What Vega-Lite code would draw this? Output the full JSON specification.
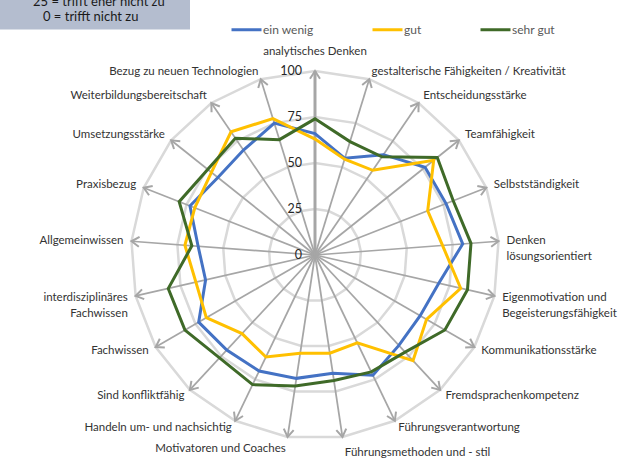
{
  "$schema": "https://vega.github.io/schema/vega-lite/v6.json",
  "width": 641,
  "height": 468,
  "autosize": {"type": "none"},
  "padding": 0,
  "background": "white",
  "config": {"view": {"stroke": null}, "font": "Lato", "text": {"font": "Lato"}, "legend": {"labelFont": "Lato"}},
  "datasets": {
    "kategorien": [
      {"i": 0, "kategorie": "analytisches Denken", "ein wenig": 66, "gut": 63, "sehr gut": 74},
      {"i": 1, "kategorie": "gestalterische Fähigkeiten / Kreativität", "ein wenig": 55, "gut": 54.5, "sehr gut": 64.5},
      {"i": 2, "kategorie": "Entscheidungsstärke", "ein wenig": 66, "gut": 55.7, "sehr gut": 64.6},
      {"i": 3, "kategorie": "Teamfähigkeit", "ein wenig": 76.5, "gut": 82.5, "sehr gut": 85},
      {"i": 4, "kategorie": "Selbstständigkeit", "ein wenig": 76.5, "gut": 65.8, "sehr gut": 80.7},
      {"i": 5, "kategorie": "Denken\nlösungsorientiert", "ein wenig": 80.5, "gut": 69.5, "sehr gut": 85},
      {"i": 6, "kategorie": "Eigenmotivation und\nBegeisterungsfähigkeit", "ein wenig": 69, "gut": 81.2, "sehr gut": 85},
      {"i": 7, "kategorie": "Kommunikationsstärke", "ein wenig": 66, "gut": 70, "sehr gut": 81.5},
      {"i": 8, "kategorie": "Fremdsprachenkompetenz", "ein wenig": 67, "gut": 78.3, "sehr gut": 72},
      {"i": 9, "kategorie": "Führungsverantwortung", "ein wenig": 72.5, "gut": 53, "sehr gut": 70.5},
      {"i": 10, "kategorie": "Führungsmethoden und - stil", "ein wenig": 65, "gut": 54, "sehr gut": 69},
      {"i": 11, "kategorie": "Motivatoren und Coaches", "ein wenig": 67.8, "gut": 54, "sehr gut": 72},
      {"i": 12, "kategorie": "Handeln um- und nachsichtig", "ein wenig": 70, "gut": 61.5, "sehr gut": 78.2},
      {"i": 13, "kategorie": "Sind konfliktfähig", "ein wenig": 70.5, "gut": 58.3, "sehr gut": 76.3},
      {"i": 14, "kategorie": "Fachwissen", "ein wenig": 73, "gut": 68.2, "sehr gut": 81.6},
      {"i": 15, "kategorie": "interdisziplinäres\nFachwissen", "ein wenig": 61, "gut": 66.4, "sehr gut": 81.8},
      {"i": 16, "kategorie": "Allgemeinwissen", "ein wenig": 63.7, "gut": 70.9, "sehr gut": 67.1},
      {"i": 17, "kategorie": "Praxisbezug", "ein wenig": 73, "gut": 70.2, "sehr gut": 79.3},
      {"i": 18, "kategorie": "Umsetzungsstärke", "ein wenig": 67.5, "gut": 72, "sehr gut": 74.6},
      {"i": 19, "kategorie": "Weiterbildungsbereitschaft", "ein wenig": 69, "gut": 81, "sehr gut": 76.8},
      {"i": 20, "kategorie": "Bezug zu neuen Technologien", "ein wenig": 75, "gut": 77.6, "sehr gut": 65.6}
    ],
    "stufen": [{"wert": 0}, {"wert": 25}, {"wert": 50}, {"wert": 75}, {"wert": 100}],
    "skala": [{"bedeutung": "25 = trifft eher nicht zu\u00a0\u00a0\u00a0\u00a0\u00a0\u00a0\u200b"}, {"bedeutung": "\u200b\u00a0\u00a0\u00a00 = trifft nicht zu"}]
  },
  "layer": [
    {
      "data": {"name": "kategorien"},
      "transform": [
        {"calculate": "datum.i*2*PI/21", "as": "t"},
        {"calculate": "25*sin(datum.t)", "as": "gx"},
        {"calculate": "25*cos(datum.t)", "as": "gy"}
      ],
      "mark": {"type": "line", "interpolate": "linear-closed", "stroke": "#D9D9D9", "strokeWidth": 2.5},
      "encoding": {
        "x": {"field": "gx", "type": "quantitative", "scale": {"domain": [-171.196, 177.174], "nice": false, "zero": false}, "axis": null},
        "y": {"field": "gy", "type": "quantitative", "scale": {"domain": [-115.761, 138.587], "nice": false, "zero": false}, "axis": null},
        "order": {"field": "i", "type": "quantitative"}
      }
    },
    {
      "data": {"name": "kategorien"},
      "transform": [
        {"calculate": "datum.i*2*PI/21", "as": "t"},
        {"calculate": "50*sin(datum.t)", "as": "gx"},
        {"calculate": "50*cos(datum.t)", "as": "gy"}
      ],
      "mark": {"type": "line", "interpolate": "linear-closed", "stroke": "#D9D9D9", "strokeWidth": 2.5},
      "encoding": {
        "x": {"field": "gx", "type": "quantitative", "axis": null},
        "y": {"field": "gy", "type": "quantitative", "axis": null},
        "order": {"field": "i", "type": "quantitative"}
      }
    },
    {
      "data": {"name": "kategorien"},
      "transform": [
        {"calculate": "datum.i*2*PI/21", "as": "t"},
        {"calculate": "75*sin(datum.t)", "as": "gx"},
        {"calculate": "75*cos(datum.t)", "as": "gy"}
      ],
      "mark": {"type": "line", "interpolate": "linear-closed", "stroke": "#D9D9D9", "strokeWidth": 2.5},
      "encoding": {
        "x": {"field": "gx", "type": "quantitative", "axis": null},
        "y": {"field": "gy", "type": "quantitative", "axis": null},
        "order": {"field": "i", "type": "quantitative"}
      }
    },
    {
      "data": {"name": "kategorien"},
      "transform": [
        {"calculate": "datum.i*2*PI/21", "as": "t"},
        {"calculate": "100*sin(datum.t)", "as": "gx"},
        {"calculate": "100*cos(datum.t)", "as": "gy"}
      ],
      "mark": {"type": "line", "interpolate": "linear-closed", "stroke": "#D9D9D9", "strokeWidth": 2.5},
      "encoding": {
        "x": {"field": "gx", "type": "quantitative", "axis": null},
        "y": {"field": "gy", "type": "quantitative", "axis": null},
        "order": {"field": "i", "type": "quantitative"}
      }
    },
    {
      "data": {"name": "kategorien"},
      "transform": [
        {"calculate": "datum.i*2*PI/21", "as": "t"},
        {"calculate": "0", "as": "z"},
        {"calculate": "100*sin(datum.t)", "as": "ex"},
        {"calculate": "100*cos(datum.t)", "as": "ey"}
      ],
      "mark": {"type": "rule", "stroke": "#A6A6A6"},
      "encoding": {
        "x": {"field": "z", "type": "quantitative", "axis": null},
        "y": {"field": "z", "type": "quantitative", "axis": null},
        "x2": {"field": "ex"},
        "y2": {"field": "ey"},
        "strokeWidth": {"condition": {"test": "datum.i == 0", "value": 3}, "value": 1.75}
      }
    },
    {
      "data": {"name": "kategorien"},
      "transform": [
        {"calculate": "datum.i*2*PI/21", "as": "t"},
        {"calculate": "datum.i*360/21", "as": "deg"},
        {"calculate": "100*sin(datum.t)", "as": "ex"},
        {"calculate": "100*cos(datum.t)", "as": "ey"}
      ],
      "mark": {"type": "point", "shape": "M-0.65,1L0,0L0.65,1", "filled": false, "stroke": "#A6A6A6", "strokeWidth": 2, "size": 237, "opacity": 1},
      "encoding": {
        "x": {"field": "ex", "type": "quantitative", "axis": null},
        "y": {"field": "ey", "type": "quantitative", "axis": null},
        "angle": {"field": "deg", "type": "quantitative", "scale": null}
      }
    },
    {
      "data": {"name": "kategorien"},
      "transform": [
        {"fold": ["ein wenig", "gut", "sehr gut"], "as": ["serie", "wert"]},
        {"calculate": "datum.i*2*PI/21", "as": "t"},
        {"calculate": "datum.wert*sin(datum.t)", "as": "px"},
        {"calculate": "datum.wert*cos(datum.t)", "as": "py"}
      ],
      "mark": {"type": "line", "interpolate": "linear-closed", "strokeWidth": 3},
      "encoding": {
        "x": {"field": "px", "type": "quantitative", "axis": null},
        "y": {"field": "py", "type": "quantitative", "axis": null},
        "order": {"field": "i", "type": "quantitative"},
        "color": {
          "field": "serie", "type": "nominal",
          "scale": {"domain": ["ein wenig", "gut", "sehr gut"], "range": ["#4472C4", "#FFC000", "#3F6A28"]},
          "legend": {"title": null, "orient": "none", "legendX": 230, "legendY": 13, "direction": "horizontal", "symbolType": "stroke", "symbolSize": 900, "symbolStrokeWidth": 3, "labelFontSize": 12, "labelColor": "#595959", "columnPadding": 52, "labelOffset": 0, "padding": 0}
        }
      }
    },
    {
      "data": {"name": "stufen"},
      "transform": [{"calculate": "0", "as": "z"}],
      "mark": {"type": "text", "align": "right", "baseline": "middle", "dx": -13, "fontSize": 12.5, "color": "#262626"},
      "encoding": {
        "x": {"field": "z", "type": "quantitative", "axis": null},
        "y": {"field": "wert", "type": "quantitative", "axis": null},
        "text": {"field": "wert", "type": "nominal"}
      }
    },
    {
      "data": {"name": "kategorien"},
      "transform": [
        {"calculate": "datum.i*2*PI/21", "as": "t"},
        {"filter": "sin(datum.t) > 0.1"},
        {"calculate": "100 + (abs(sin(datum.t)) < 0.2 ? 16 : 8)/1.84", "as": "lr"},
        {"calculate": "datum.lr*sin(datum.t)", "as": "lx"},
        {"calculate": "datum.lr*cos(datum.t)", "as": "ly"}
      ],
      "mark": {"type": "text", "align": "left", "baseline": "middle", "fontSize": 11.5, "color": "#333333", "lineBreak": "\n", "lineHeight": 16},
      "encoding": {
        "x": {"field": "lx", "type": "quantitative", "axis": null},
        "y": {"field": "ly", "type": "quantitative", "axis": null},
        "text": {"field": "kategorie", "type": "nominal"}
      }
    },
    {
      "data": {"name": "kategorien"},
      "transform": [
        {"calculate": "datum.i*2*PI/21", "as": "t"},
        {"filter": "sin(datum.t) < -0.1"},
        {"calculate": "100 + (abs(sin(datum.t)) < 0.2 ? 12 : 8)/1.84", "as": "lr"},
        {"calculate": "datum.lr*sin(datum.t)", "as": "lx"},
        {"calculate": "datum.lr*cos(datum.t)", "as": "ly"}
      ],
      "mark": {"type": "text", "align": "right", "baseline": "middle", "fontSize": 11.5, "color": "#333333", "lineBreak": "\n", "lineHeight": 16},
      "encoding": {
        "x": {"field": "lx", "type": "quantitative", "axis": null},
        "y": {"field": "ly", "type": "quantitative", "axis": null},
        "text": {"field": "kategorie", "type": "nominal"}
      }
    },
    {
      "data": {"name": "kategorien"},
      "transform": [
        {"calculate": "datum.i*2*PI/21", "as": "t"},
        {"filter": "abs(sin(datum.t)) <= 0.1"},
        {"calculate": "100 + 19/1.84", "as": "lr"},
        {"calculate": "datum.lr*sin(datum.t)", "as": "lx"},
        {"calculate": "datum.lr*cos(datum.t)", "as": "ly"}
      ],
      "mark": {"type": "text", "align": "center", "baseline": "middle", "fontSize": 11.5, "color": "#333333"},
      "encoding": {
        "x": {"field": "lx", "type": "quantitative", "axis": null},
        "y": {"field": "ly", "type": "quantitative", "axis": null},
        "text": {"field": "kategorie", "type": "nominal"}
      }
    },
    {
      "data": {"name": "skala"},
      "mark": {"type": "point", "opacity": 0, "size": 0},
      "encoding": {
        "shape": {
          "field": "bedeutung", "type": "nominal",
          "scale": {"domain": ["25 = trifft eher nicht zu\u00a0\u00a0\u00a0\u00a0\u00a0\u00a0\u200b", "\u200b\u00a0\u00a0\u00a00 = trifft nicht zu"], "range": ["circle", "circle"]},
          "legend": {"title": null, "orient": "none", "legendX": 0, "legendY": -9.5, "direction": "vertical", "fillColor": "#B4BDCF", "padding": 5, "symbolSize": 0, "symbolOpacity": 0, "symbolStrokeWidth": 0, "labelOffset": 15, "labelFontSize": 13, "labelColor": "#1A1A1A", "rowPadding": 1, "labelLimit": 0}
        }
      }
    }
  ]
}
